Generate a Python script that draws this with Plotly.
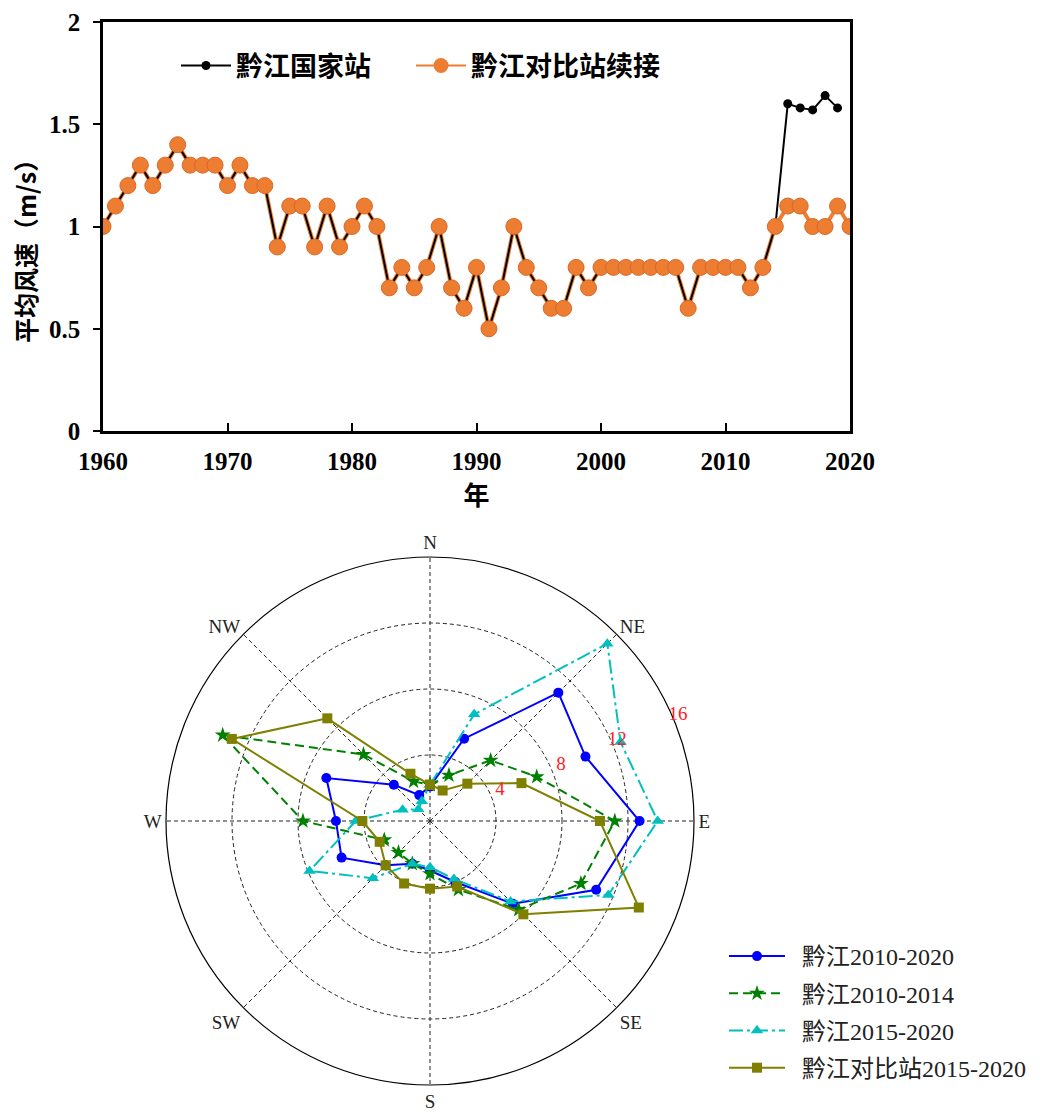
import plotly.graph_objects as go

# ---- annual mean wind speed, Qianjiang ----
years = list(range(1960, 2021))
speed_compare = [1.0, 1.1, 1.2, 1.3, 1.2, 1.3, 1.4, 1.3, 1.3, 1.3,
                 1.2, 1.3, 1.2, 1.2, 0.9, 1.1, 1.1, 0.9, 1.1, 0.9,
                 1.0, 1.1, 1.0, 0.7, 0.8, 0.7, 0.8, 1.0, 0.7, 0.6,
                 0.8, 0.5, 0.7, 1.0, 0.8, 0.7, 0.6, 0.6, 0.8, 0.7,
                 0.8, 0.8, 0.8, 0.8, 0.8, 0.8, 0.8, 0.6, 0.8, 0.8,
                 0.8, 0.8, 0.7, 0.8, 1.0, 1.1, 1.1, 1.0, 1.0, 1.1,
                 1.0]
national_tail = [1.60, 1.58, 1.57, 1.64, 1.58]          # 2015-2019 at the national station
national_years = list(range(1960, 2020))
speed_national = speed_compare[:55] + national_tail     # identical record up to 2014

# ---- wind-direction frequency rose (%) ----
directions = ["N", "NNE", "NE", "ENE", "E", "ESE", "SE", "SSE",
              "S", "SSW", "SW", "WSW", "W", "WNW", "NW", "NNW"]
freq_2010_2020 = [2.1, 5.4, 11.0, 10.2, 12.7, 10.9, 7.1, 4.0, 3.0, 2.8, 3.8, 5.8, 5.7, 6.8, 3.1, 1.7]
freq_2010_2014 = [2.2, 3.0, 5.2, 7.0, 11.2, 9.9, 7.6, 4.5, 3.2, 2.8, 2.7, 3.0, 7.7, 13.6, 5.7, 2.6]
freq_2015_2020 = [2.2, 7.0, 15.2, 12.5, 13.8, 11.7, 6.9, 3.8, 2.8, 2.8, 4.9, 7.9, 4.5, 1.8, 1.0, 1.3]
freq_cmp_2015_2020 = [2.2, 2.0, 3.2, 6.0, 10.3, 13.7, 8.0, 4.3, 4.1, 4.1, 3.8, 3.3, 4.1, 13.0, 8.8, 3.1]
compass_labels = ["N", "NE", "E", "SE", "S", "SW", "W", "NW"]
radial_ticks = [4, 8, 12, 16]

W, H = 1042, 1113
ORANGE = "#ED7D31"
SERIF = "Liberation Serif, Noto Sans CJK SC"
CJK = "Noto Sans CJK SC"
ENSP = "\u2002"

# rose centre / radius in pixels
CX, CY, R = 430, 821, 264
# ring labels are drawn by a transparent twin of the rose, nudged outward
LABEL_DX, LABEL_DY = 19, 3


def px_x(p):
    return p / W


def px_y(p):
    return 1 - p / H


fig = go.Figure()

# line chart: orange halo under the black line, orange markers on top
fig.add_trace(go.Scatter(x=years, y=speed_compare, mode="lines",
                         line=dict(color=ORANGE, width=4), showlegend=False,
                         hoverinfo="skip"))
fig.add_trace(go.Scatter(x=national_years, y=speed_national, mode="lines+markers",
                         name="黔江国家站", line=dict(color="black", width=2),
                         marker=dict(color="black", size=9), legend="legend"))
fig.add_trace(go.Scatter(x=[None], y=[None], mode="lines+markers", name="黔江对比站续接",
                         line=dict(color=ORANGE, width=2),
                         marker=dict(color=ORANGE, size=15), legend="legend3"))
fig.add_trace(go.Scatter(x=years, y=speed_compare, mode="markers", showlegend=False,
                         marker=dict(color=ORANGE, size=16,
                                     line=dict(color="#D9682A", width=1))))

# wind rose
theta = [i * 22.5 for i in range(len(directions))]


def closed(vals):
    return vals + vals[:1]


rose = [
    ("黔江2010-2020", freq_2010_2020, "#0000FF", "solid", "circle", 10),
    ("黔江2010-2014", freq_2010_2014, "#008000", "9px,5px", "star", 12),
    ("黔江2015-2020", freq_2015_2020, "#00BFBF", "14px,4px,3px,4px", "triangle-up", 11),
    ("黔江对比站2015-2020", freq_cmp_2015_2020, "#808000", "solid", "square", 10),
]
for i, (name, vals, color, dash, symbol, size) in enumerate(rose):
    fig.add_trace(go.Scatterpolar(
        r=closed(vals), theta=closed(theta), mode="lines+markers", name=ENSP + name,
        line=dict(color=color, width=2, dash=dash),
        marker=dict(color=color, symbol=symbol, size=size),
        legend="legend2", legendgroup=f"g{i}", subplot="polar"))

# empty trace so the label-only twin subplot is rendered
fig.add_trace(go.Scatterpolar(r=[], theta=[], subplot="polar2", showlegend=False,
                              hoverinfo="skip"))

top_legend_font = dict(family=CJK, size=27, color="black", weight="bold")
grid_style = dict(gridcolor="#222222", griddash="4px,3px", gridwidth=0.8)

fig.update_layout(
    width=W, height=H, template="none",
    margin=dict(l=0, r=0, t=0, b=0),
    paper_bgcolor="white", plot_bgcolor="white",
    xaxis=dict(domain=[px_x(103), px_x(850)], range=[1960, 2020],
               tickvals=list(range(1960, 2021, 10)), ticks="inside", ticklen=8,
               tickwidth=2, tickcolor="black", showline=True, linewidth=2.5,
               linecolor="black", mirror=True, showgrid=False, zeroline=False,
               automargin=False, ticklabelstandoff=6,
               tickfont=dict(family=SERIF, size=25, color="black", weight="bold"),
               title=dict(text="年", standoff=4,
                          font=dict(family=CJK, size=26, color="black", weight="bold"))),
    yaxis=dict(domain=[px_y(431), px_y(22)], range=[0, 2], tickvals=[0, 0.5, 1, 1.5, 2],
               ticks="outside", ticklen=7, tickwidth=2, tickcolor="black",
               showline=True, linewidth=2.5, linecolor="black", mirror=True,
               showgrid=False, zeroline=False, automargin=False, ticklabelstandoff=8,
               tickfont=dict(family=SERIF, size=25, color="black", weight="bold")),
    annotations=[dict(text="平均风速（m/s）", textangle=-90, showarrow=False,
                      xref="paper", yref="paper", x=px_x(25), y=px_y(245),
                      xanchor="center", yanchor="middle",
                      font=dict(family=CJK, size=25, color="black", weight="bold"))],
    legend=dict(orientation="h", x=px_x(176), y=px_y(66), xanchor="left", yanchor="middle",
                bgcolor="rgba(0,0,0,0)", itemwidth=50, font=top_legend_font),
    legend3=dict(orientation="h", x=px_x(411), y=px_y(66), xanchor="left", yanchor="middle",
                 bgcolor="rgba(0,0,0,0)", itemwidth=50, font=top_legend_font),
    legend2=dict(orientation="v", x=px_x(724), y=px_y(934), xanchor="left", yanchor="top",
                 bgcolor="rgba(0,0,0,0)", itemwidth=56, traceorder="grouped",
                 tracegroupgap=3,
                 font=dict(family=SERIF, size=24, color="#222222")),
    polar=dict(
        domain=dict(x=[px_x(CX - R), px_x(CX + R)], y=[px_y(CY + R), px_y(CY - R)]),
        bgcolor="white",
        angularaxis=dict(direction="clockwise", rotation=90, thetaunit="degrees",
                         tickmode="array", tickvals=[0, 45, 90, 135, 180, 225, 270, 315],
                         ticktext=compass_labels, ticks="", showline=True,
                         linecolor="black", linewidth=1.2, showgrid=True,
                         tickfont=dict(family=SERIF, size=19, color="#222222"),
                         **grid_style),
        radialaxis=dict(range=[0, 16], tickmode="array", tickvals=radial_ticks,
                        showticklabels=False, showline=False, ticks="",
                        angle=22.5, showgrid=True, **grid_style),
    ),
    polar2=dict(
        domain=dict(x=[px_x(CX - R + LABEL_DX), px_x(CX + R + LABEL_DX)],
                    y=[px_y(CY + R + LABEL_DY), px_y(CY - R + LABEL_DY)]),
        bgcolor="rgba(0,0,0,0)",
        angularaxis=dict(direction="clockwise", rotation=90, visible=False),
        radialaxis=dict(range=[0, 16], tickmode="array", tickvals=radial_ticks,
                        showline=False, ticks="", showgrid=False,
                        angle=22.5, tickangle=22.5, side="counterclockwise",
                        tickfont=dict(family=SERIF, size=19, color="#FF2020")),
    ),
)

fig.write_html("out.html")
